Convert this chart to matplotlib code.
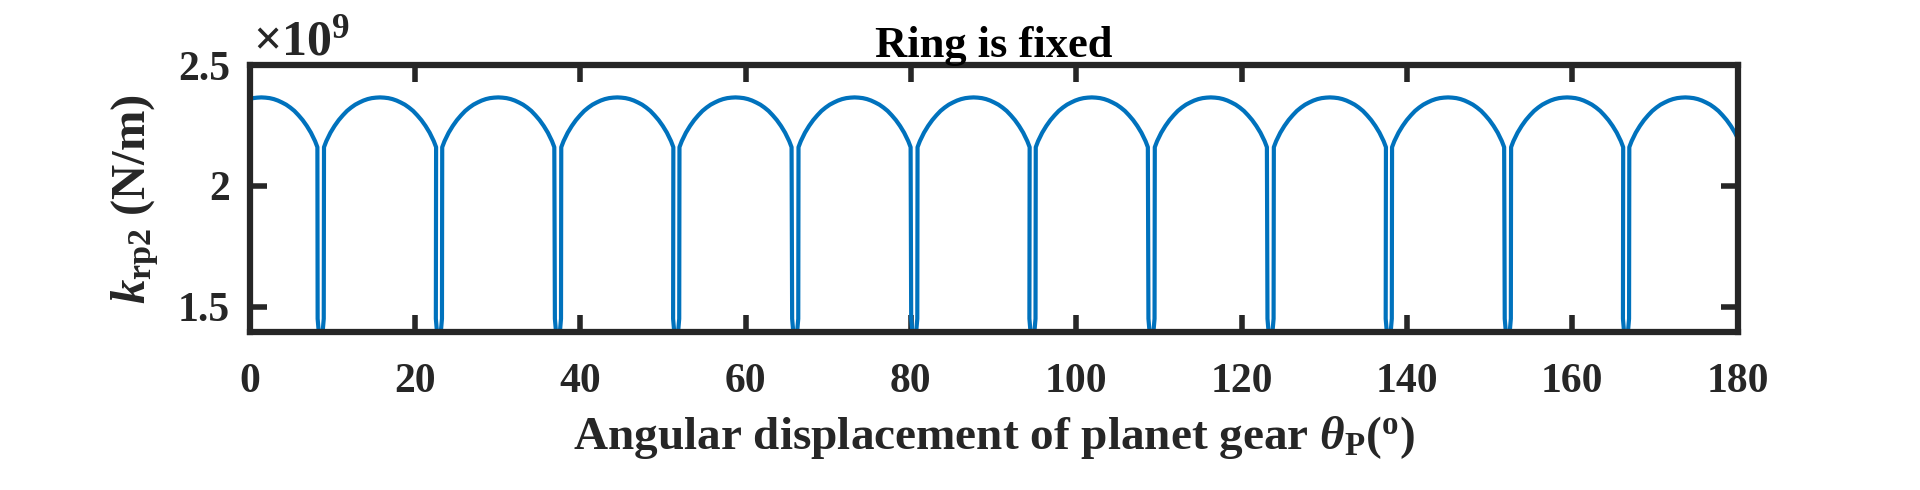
import numpy as np
import matplotlib
matplotlib.use("Agg")
import matplotlib.pyplot as plt

plt.rcParams['font.family'] = ['Liberation Serif', 'DejaVu Serif']
plt.rcParams['font.weight'] = 'bold'
plt.rcParams['axes.labelweight'] = 'bold'
plt.rcParams['axes.titleweight'] = 'bold'
plt.rcParams['mathtext.fontset'] = 'custom'
plt.rcParams['mathtext.rm'] = 'Liberation Serif'
plt.rcParams['mathtext.bf'] = 'Liberation Serif:bold'
plt.rcParams['mathtext.it'] = 'Liberation Serif:italic:bold'

# centres of the stiffness drops (deg)
drop_centre = [8.6, 22.9, 37.3, 51.6, 66.0, 80.4, 94.7, 109.1, 123.5, 137.8, 152.2, 166.5]
half_gap = 0.4

# one tooth arc: offset from its peak (deg) -> k_rp2 (x1e9 N/m)
arc_offset = [-6.78, -6.5, -6.0, -5.5, -5.0, -4.5, -4.0, -3.5, -3.0, -2.5, -2.0, -1.5, -1.0, -0.5,
              0.0, 0.5, 1.0, 1.5, 2.0, 2.5, 3.0, 3.5, 4.0, 4.5, 5.0, 5.5, 6.0, 6.5, 6.78]
arc_k = [2.160, 2.185, 2.220, 2.248, 2.272, 2.292, 2.310, 2.324, 2.336, 2.345, 2.353, 2.359, 2.363, 2.365,
         2.366, 2.365, 2.363, 2.359, 2.353, 2.345, 2.336, 2.324, 2.310, 2.292, 2.272, 2.248, 2.220, 2.185, 2.160]

# the narrow dip inside each drop
dip_offset = [-0.37, 0.0, 0.37]
dip_k = [1.45, 1.30, 1.45]

peaks = [drop_centre[0] - half_gap - arc_offset[-1]] + [c + half_gap - arc_offset[0] for c in drop_centre]

theta, k = [], []
for i, p in enumerate(peaks):
    theta += [p + d for d in arc_offset]
    k += arc_k
    if i < len(drop_centre):
        theta += [drop_centre[i] + d for d in dip_offset]
        k += dip_k

fig = plt.figure(figsize=(19.2, 4.9), dpi=100)
ax = fig.add_axes([0.130, 0.3224, 0.775, 0.5449])
ax.plot(theta, k, color='#0072BD', linewidth=3.0)

ax.set_xlim(0, 180)
ax.set_ylim(1.395, 2.5)
ax.set_xticks(np.arange(0, 181, 20))
ax.set_yticks([1.5, 2, 2.5])
ax.set_yticklabels(['1.5', '2', '2.5'])
ax.tick_params(direction='in', length=12, width=4, top=True, right=True,
               labelsize=30, pad=14, colors='#262626')
ax.tick_params(axis='x', pad=22)
for s in ax.spines.values():
    s.set_linewidth(4.5)
    s.set_color('#262626')

ax.set_title('Ring is fixed', fontsize=32, pad=6)
ax.set_ylabel(r'$k_{\mathbf{rp2}}$ (N/m)', fontsize=35, color='#262626', labelpad=12)
ax.set_xlabel(r'Angular displacement of planet gear $\theta_{\mathbf{P}}$($^{\mathbf{o}}$)',
              fontsize=34, color='#262626', labelpad=10)
fig.text(0.132, 0.888, r'$\times\mathbf{10}^{\mathbf{9}}$', fontsize=36, color='#262626', va='baseline')

fig.savefig('out.png', dpi=100)
